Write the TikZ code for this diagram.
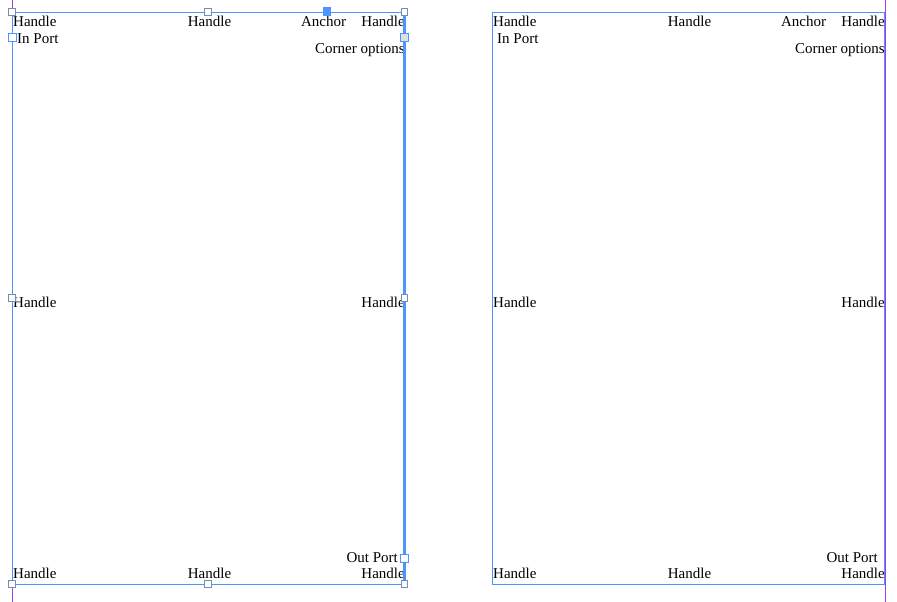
\documentclass[tikz,border=0pt]{standalone}
\usepackage{fontspec}
\setmainfont{Liberation Serif}
\usetikzlibrary{positioning}
\definecolor{selblue}{RGB}{77,148,255}
\definecolor{hgray}{RGB}{120,140,175}
\definecolor{guide}{RGB}{160,60,240}

\begin{document}
\begin{tikzpicture}[x=1pt,y=-1pt]
      \tikzstyle{frame} = [draw=selblue, line width=0.9pt, inner sep=0pt, outer sep=0pt, anchor=north west]
      \tikzstyle{lbl} = [inner sep=0pt, font=\fontsize{15}{18}\selectfont]
      \tikzstyle{hnode} = [draw=hgray, fill=white, line width=0.8pt, minimum size=6.5pt, inner sep=0pt]
      \tikzstyle{pnode} = [draw=selblue, fill=white, line width=0.9pt, minimum size=8pt, inner sep=0pt]

      \useasboundingbox (0,0) rectangle (897,602);

      % guides
      \coordinate (gla) at (12,0);
      \coordinate (glb) at (12,602);
      \draw[guide, line width=1pt] (gla) -- (glb);

      % left frame
      \node[frame, minimum width=392.5, minimum height=572] (boxa) at (12,12) {};

      \node[lbl, anchor=base west] (ha1) at (13,27) {Handle};
      \node[lbl, anchor=base] (ha2) at (209.5,27) {Handle};
      \node[lbl, anchor=base] (anca) at (323.5,27) {Anchor};
      \node[lbl, anchor=base east] (ha3) at (405,27) {Handle};
      \node[lbl, anchor=base west] (ina) at (17,44) {In Port};
      \node[lbl, anchor=base east] (cora) at (405,54) {Corner options};
      \node[lbl, anchor=base west] (ha4) at (13,307.5) {Handle};
      \node[lbl, anchor=base east] (ha5) at (405,307.5) {Handle};
      \node[lbl, anchor=base east] (outa) at (398,562.5) {Out Port};
      \node[lbl, anchor=base west] (ha6) at (13,578.5) {Handle};
      \node[lbl, anchor=base] (ha7) at (209.5,578.5) {Handle};
      \node[lbl, anchor=base east] (ha8) at (405,578.5) {Handle};

      \draw[selblue, line width=2.2pt] (boxa.north east) -- (boxa.south east);

      \node[hnode] (sqa1) at (boxa.north west) {};
      \node[hnode] (sqa2) at (208,12) {};
      \node[hnode] (sqa3) at (boxa.north east) {};
      \node[hnode] (sqa4) at (boxa.west) {};
      \node[hnode] (sqa5) at (boxa.east) {};
      \node[hnode] (sqa6) at (boxa.south west) {};
      \node[hnode] (sqa7) at (208,584) {};
      \node[hnode] (sqa8) at (boxa.south east) {};
      \node[pnode, fill=selblue, minimum size=7.5pt] (anq) at (327,11.5) {};
      \node[pnode] (inq) at (12.5,37) {};
      \node[pnode, fill=gray!25] (corq) at (404.5,37) {};
      \node[pnode] (outq) at (404.5,558) {};

      % right frame
      \node[frame, minimum width=392.5, minimum height=572] (boxb) at (492,12) {};

      \node[lbl, anchor=base west] (hb1) at (493,27) {Handle};
      \node[lbl, anchor=base] (hb2) at (689.5,27) {Handle};
      \node[lbl, anchor=base] (ancb) at (803.5,27) {Anchor};
      \node[lbl, anchor=base east] (hb3) at (885,27) {Handle};
      \node[lbl, anchor=base west] (inb) at (497,44) {In Port};
      \node[lbl, anchor=base east] (corb) at (885,54) {Corner options};
      \node[lbl, anchor=base west] (hb4) at (493,307.5) {Handle};
      \node[lbl, anchor=base east] (hb5) at (885,307.5) {Handle};
      \node[lbl, anchor=base east] (outb) at (878,562.5) {Out Port};
      \node[lbl, anchor=base west] (hb6) at (493,578.5) {Handle};
      \node[lbl, anchor=base] (hb7) at (689.5,578.5) {Handle};
      \node[lbl, anchor=base east] (hb8) at (885,578.5) {Handle};

      \draw[selblue, line width=1.2pt] (boxb.north east) -- (boxb.south east);

      % guide over the right edge
      \coordinate (grb) at (885.5,0);
      \coordinate (grc) at (885.5,602);
      \draw[guide, line width=1pt] (grb) -- (grc);
\end{tikzpicture}
\end{document}
